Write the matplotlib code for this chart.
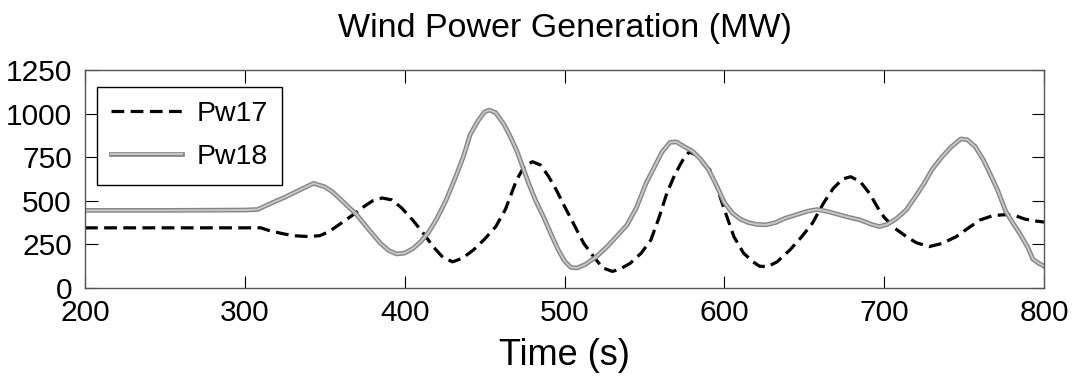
import matplotlib
matplotlib.use('Agg')
import matplotlib.pyplot as plt
import matplotlib.patheffects as pe

plt.rcParams['font.family'] = ['Liberation Sans', 'DejaVu Sans']

# Pw17 (black dashed)
t17 = [200, 250, 300, 310, 315, 322, 330, 340, 347, 353, 360, 369, 375, 380, 386,
       392, 398, 405, 412, 418, 424, 430, 436, 443, 450, 457, 463, 470, 475, 480,
       485, 490, 495, 499, 505, 512, 519, 524, 530, 535, 541, 548, 554, 559, 564,
       569, 574, 578, 583, 587, 591, 596, 600, 606, 612, 618, 622, 627, 633, 641,
       648, 655, 662, 668, 674, 679, 685, 691, 696, 700, 707, 714, 720, 728, 736,
       745, 752, 760, 768, 775, 782, 788, 794, 800]
pw17 = [345, 345, 345, 345, 330, 315, 300, 295, 300, 325, 370, 428, 470, 500, 516,
        505, 460, 390, 310, 235, 175, 150, 170, 218, 280, 352, 450, 619, 700, 724,
        705, 640, 560, 486, 380, 256, 170, 115, 95, 110, 141, 200, 275, 400, 543,
        650, 734, 780, 760, 710, 677, 560, 450, 294, 200, 150, 125, 122, 150, 218,
        290, 370, 486, 570, 625, 638, 610, 540, 460, 405, 340, 294, 260, 237, 255,
        294, 340, 390, 415, 420, 415, 395, 385, 378]

# Pw18 (grey solid)
t18 = [200, 250, 300, 308, 315, 325, 335, 343, 350, 355, 362, 370, 378, 385, 390,
       395, 400, 405, 410, 415, 420, 426, 432, 437, 441, 446, 450, 453, 457, 462,
       466, 470, 474, 478, 482, 487, 492, 496, 500, 504, 508, 513, 520, 527, 533,
       539, 545, 551, 556, 561, 566, 570, 575, 580, 585, 590, 595, 600, 605, 610,
       615, 620, 626, 632, 638, 645, 652, 658, 664, 670, 678, 685, 692, 697, 702,
       708, 714, 720, 725, 730, 736, 742, 748, 752, 757, 762, 767, 771, 776, 780,
       785, 790, 793, 797, 800]
pw18 = [445, 445, 447, 450, 480, 520, 565, 600, 580, 550, 490, 420, 330, 255, 215,
        195, 200, 225, 265, 320, 395, 505, 640, 760, 880, 960, 1010, 1020, 1005, 940,
        870, 790, 690, 590, 500, 405, 300, 220, 155, 118, 115, 135, 180, 240, 300,
        360, 460, 600, 690, 780, 835, 838, 810, 785, 740, 680, 590, 490, 430, 395,
        375, 365, 362, 375, 400, 420, 440, 450, 440, 425, 405, 390, 365, 352, 365,
        400, 450, 530, 600, 680, 750, 810, 855, 850, 810, 735, 640, 560, 440, 380,
        310, 230, 165, 140, 125]

xticks = [200, 300, 400, 500, 600, 700, 800]
yticks = [0, 250, 500, 750, 1000, 1250]

fig = plt.figure(figsize=(10.77, 3.81), dpi=100)
ax = fig.add_axes([0.0789, 0.2441, 0.8905, 0.5722])

ax.plot(t17, pw17, color='black', lw=2.3, ls=(0, (4, 2)), label='Pw17')
ax.plot(t18, pw18, color='#c8c8c8', lw=1.4, label='Pw18',
        path_effects=[pe.Stroke(linewidth=3.4, foreground='#858585'), pe.Normal()])

ax.set_xlim(200, 800)
ax.set_ylim(0, 1250)
ax.set_xticks(xticks)
ax.set_yticks(yticks)
ax.tick_params(direction='in', length=9, width=0.8, top=True, right=True, labelsize=21.5)
ax.tick_params(axis='x', pad=8)
ax.tick_params(axis='y', pad=9.4)
for s in ax.spines.values():
    s.set_linewidth(1)
    s.set_color('#555555')

ax.set_title('Wind Power Generation (MW)', fontsize=24.5, pad=24)
ax.set_xlabel('Time (s)', fontsize=26, labelpad=8)

leg = ax.legend(loc='upper left', bbox_to_anchor=(0.0125, 0.922), borderaxespad=0,
                fontsize=20.5, fancybox=False, edgecolor='black', framealpha=1,
                handlelength=2.5, handletextpad=0.5, labelspacing=0.6,
                borderpad=0.5)
leg.get_frame().set_linewidth(1)

fig.savefig('out.png', dpi=100)
